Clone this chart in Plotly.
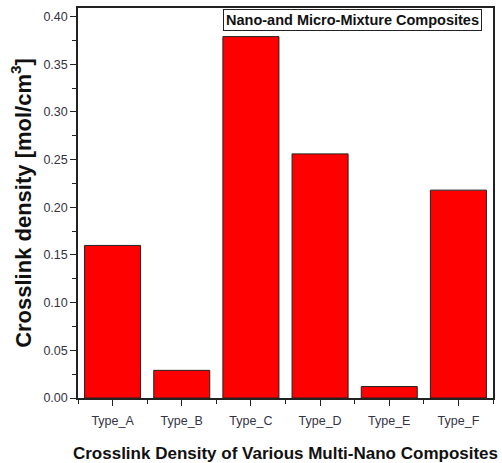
import plotly.graph_objects as go

categories = ["Type_A", "Type_B", "Type_C", "Type_D", "Type_E", "Type_F"]
crosslink_density = [0.160, 0.029, 0.379, 0.256, 0.012, 0.218]
y_ticks = [0.00, 0.05, 0.10, 0.15, 0.20, 0.25, 0.30, 0.35, 0.40]
y_tick_labels = ["%.2f" % v for v in y_ticks]

fig = go.Figure()
fig.add_trace(go.Bar(
    x=list(range(len(categories))),
    y=crosslink_density,
    width=0.81,
    marker=dict(color="#ff0000", line=dict(color="#222222", width=1)),
))

fig.update_layout(
    width=502, height=463,
    margin=dict(l=78, r=9, t=8, b=65),
    plot_bgcolor="white", paper_bgcolor="white",
    showlegend=False,
    font=dict(family="Liberation Sans, Arial, sans-serif", color="#222222"),
    xaxis=dict(
        automargin=False,
        range=[-0.5, 5.5],
        tickmode="array",
        tickvals=list(range(len(categories))),
        ticktext=categories,
        ticks="outside", ticklen=6, tickwidth=1.2, tickcolor="#222222",
        ticklabelstandoff=4,
        minor=dict(tickmode="array", tickvals=[i + 0.5 for i in range(-1, 6)],
                   ticks="outside", ticklen=4, tickcolor="#222222"),
        showline=True, linecolor="#222222", linewidth=1.5, mirror=True,
        showgrid=False, zeroline=False,
        tickfont=dict(size=12.5, color="#333344"),
        title=dict(text="<b>Crosslink Density of Various Multi-Nano Composites</b>",
                   font=dict(size=17, color="#111111"), standoff=22),
    ),
    yaxis=dict(
        automargin=False,
        range=[0, 0.409],
        tickmode="array", tickvals=y_ticks, ticktext=y_tick_labels,
        ticks="outside", ticklen=6, tickwidth=1.2, tickcolor="#222222",
        minor=dict(dtick=0.025, ticks="outside", ticklen=4, tickcolor="#222222"),
        showline=True, linecolor="#222222", linewidth=1.5, mirror=True,
        showgrid=False, zeroline=False,
        tickfont=dict(size=12.5, color="#333344"),
        title=dict(text="<b>Crosslink density [mol/cm<sup>3</sup>]</b>",
                   font=dict(size=22, color="#111111"), standoff=6),
    ),
)

fig.add_annotation(
    xref="paper", yref="paper", x=0.9725, y=0.998,
    xanchor="right", yanchor="top",
    text="<b>Nano-and Micro-Mixture Composites</b>",
    showarrow=False,
    font=dict(size=14.5, color="#111111"),
    bordercolor="#222222", borderwidth=1, borderpad=2,
    bgcolor="white",
)

fig.write_html("out.html")
